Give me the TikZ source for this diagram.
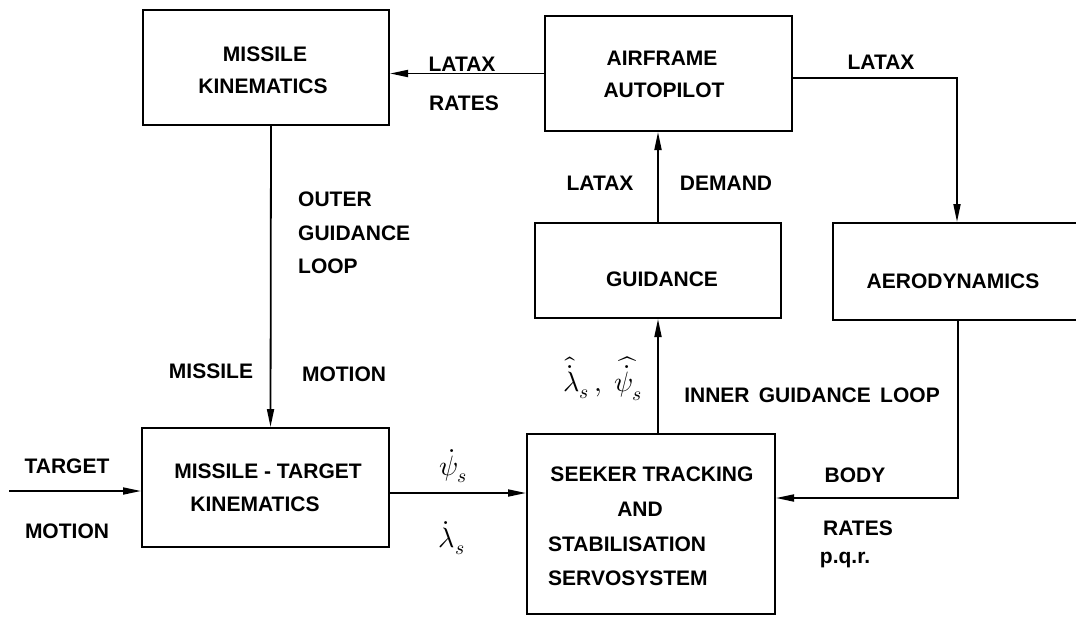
\documentclass[tikz,border=0pt]{standalone}
\usepackage{fontspec}
\usepackage{unicode-math}
\setmainfont{Liberation Sans}
\setmathfont{Latin Modern Math}
\usetikzlibrary{arrows.meta}
\begin{document}
\begin{tikzpicture}[x=1pt,y=-1pt,
  blk/.style={draw,line width=2pt,inner sep=0pt},
  txt/.style={inner sep=0pt,anchor=base,font=\fontsize{21}{26}\selectfont\bfseries},
  txtw/.style={txt,anchor=base west},
  mth/.style={inner sep=0pt,anchor=center,font=\fontsize{28}{32}\selectfont},
  con/.style={line width=1.8pt},
  arr/.style={con,-{Triangle[length=18pt,width=7pt]}}]
\useasboundingbox (0,0) rectangle (1076,616);
% boxes
\node[blk,minimum width=246pt,minimum height=115pt] (mk) at (266,67.5) {};
\node[blk,minimum width=247pt,minimum height=115pt] (aa) at (668.5,73.5) {};
\node[blk,minimum width=246pt,minimum height=95pt] (gd) at (658,270.5) {};
\node[blk,minimum width=267pt,minimum height=97pt] (ae) at (966.5,271.5) {};
\node[blk,minimum width=247pt,minimum height=119pt] (mtk) at (265.5,487.5) {};
\node[blk,minimum width=248pt,minimum height=180pt] (sk) at (651,524) {};
% box texts
\node[txt] (mk1) at (265,61) {MISSILE};
\node[txt] (mk2) at (263,93) {KINEMATICS};
\node[txt] (aa1) at (662,65) {AIRFRAME};
\node[txt] (aa2) at (664,97) {AUTOPILOT};
\node[txt] (gd1) at (662,286) {GUIDANCE};
\node[txt] (ae1) at (953,288) {AERODYNAMICS};
\node[txt] (mtk1) at (268,478) {MISSILE - TARGET};
\node[txt] (mtk2) at (255,511) {KINEMATICS};
\node[txt] (sk1) at (652,481) {SEEKER TRACKING};
\node[txt] (sk2) at (640,516) {AND};
\node[txtw] (sk3) at (548,551) {STABILISATION};
\node[txtw] (sk4) at (548,585) {SERVOSYSTEM};
% connector labels
\node[txt] (l1) at (462,71) {LATAX};
\node[txt] (l2) at (464,110) {RATES};
\node[txt] (l3) at (881,69) {LATAX};
\node[txt] (l4) at (600,190) {LATAX};
\node[txt] (l5) at (726,190) {DEMAND};
\node[txtw] (o1) at (298,206) {OUTER};
\node[txtw] (o2) at (298,240) {GUIDANCE};
\node[txtw] (o3) at (298,273) {LOOP};
\node[txt] (m1) at (211,378) {MISSILE};
\node[txt] (m2) at (344,381) {MOTION};
\node[txt] (t1) at (67,473) {TARGET};
\node[txt] (t2) at (67,538) {MOTION};
\node[mth] (psd) at (453,466) {$\dot{\psi}_s$};
\node[mth] (lad) at (452,538) {$\dot{\lambda}_s$};
\node[mth] (hats) at (603,379) {$\widehat{\dot{\lambda}}_s\,,\;\widehat{\dot{\psi}}_s$};
\node[txt] (ig) at (812,402) {INNER \,GUIDANCE \,LOOP};
\node[txt] (b1) at (855,482) {BODY};
\node[txt] (b2) at (858,535) {RATES};
\node[txt] (b3) at (845,563) {p.q.r.};
% connectors
\draw[arr] (aa.west) -- (aa.west -| mk.east);
\draw[arr] ([xshift=5pt]mk.south) -- ([xshift=5pt]mtk.north);
\coordinate (tin) at (9,491);
\draw[arr] (tin) -- (tin -| mtk.west);
\coordinate (mo) at ([yshift=-5.5pt]mtk.east);
\draw[arr] (mo) -- (mo -| sk.west);
\draw[arr] (gd.south |- sk.north) -- (gd.south);
\draw[arr] (gd.north) -- (gd.north |- aa.south);
\coordinate (ao) at ([yshift=-4.5pt]aa.east);
\coordinate (ai) at ([xshift=-9.5pt]ae.north);
\draw[arr] (ao) -| (ai);
\coordinate (eo) at ([xshift=-8.5pt]ae.south);
\coordinate (si) at ([yshift=26pt]sk.east);
\draw[arr] (eo) |- (si);
\end{tikzpicture}
\end{document}
